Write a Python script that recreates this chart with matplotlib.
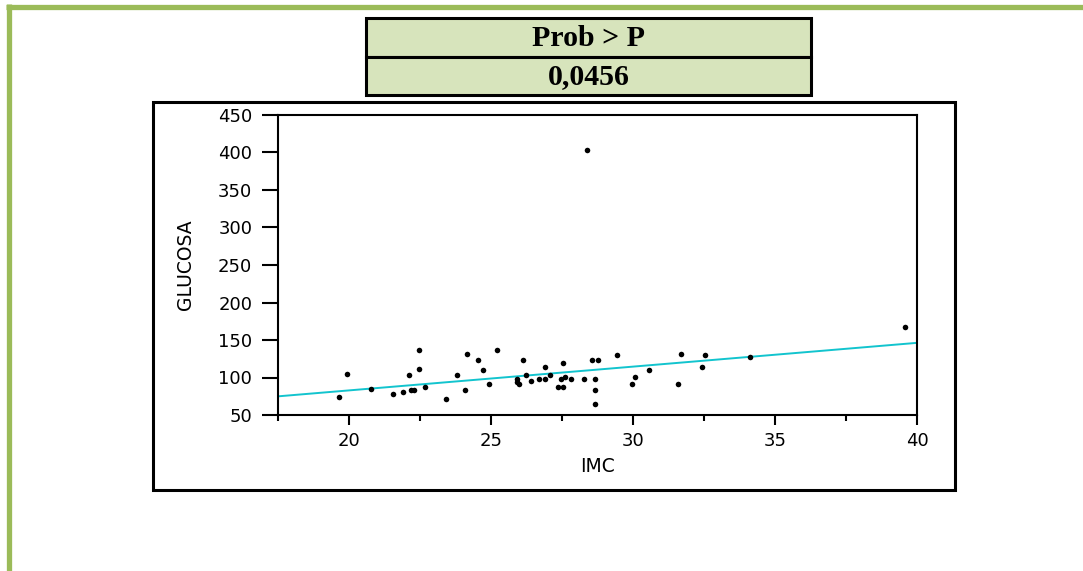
import numpy as np
import matplotlib
matplotlib.use("Agg")
import matplotlib.pyplot as plt
from matplotlib.patches import Rectangle
from matplotlib.lines import Line2D

# --- data ---
imc = [19.66, 19.94, 20.79, 21.54, 21.91, 22.1, 22.2, 22.3, 22.48, 22.48,
       22.67, 23.42, 23.8, 24.08, 24.17, 24.54, 24.73, 24.92, 25.2, 25.93,
       25.93, 26.0, 26.14, 26.23, 26.42, 26.7, 26.9, 26.89, 27.08, 27.36,
       27.55, 27.55, 27.45, 27.6, 27.8, 28.27, 28.38, 28.56, 28.75, 28.66,
       28.66, 28.66, 29.42, 29.98, 30.08, 30.55, 31.58, 31.68, 32.43, 32.52,
       34.12, 39.57]
glucosa = [74, 105, 85, 78.5, 80.5, 103, 84, 83, 136.5, 112,
           87.5, 72, 103, 83, 132, 123, 110, 92, 136.5, 98.5,
           94, 92, 123, 103, 96, 98.5, 98.5, 114, 103, 87.5,
           87.5, 119, 98.5, 101, 98.5, 98.5, 403, 123, 123, 98.5,
           83, 65, 130, 92, 101, 110, 92, 132, 114, 130,
           127.6, 167.5]

# fitted line shown in the chart
fit_intercept = 19.4
fit_slope = 3.17

table_header = "Prob > P"
table_value = "0,0456"

x_ticks = [20, 25, 30, 35, 40]
x_minor = [17.5, 22.5, 27.5, 32.5, 37.5]
y_ticks = [50, 100, 150, 200, 250, 300, 350, 400, 450]

# --- figure in pixel units ---
W, H = 1083, 571
fig = plt.figure(figsize=(W / 100, H / 100), dpi=100)


def fx(px):
    return px / W


def fy(py):
    return 1 - py / H


green = "#9bbb59"
# green page border (top and left)
fig.add_artist(Line2D([fx(6), fx(W)], [fy(6.5), fy(6.5)], color=green, lw=3.8,
                      transform=fig.transFigure, solid_capstyle="butt"))
fig.add_artist(Line2D([fx(8.5), fx(8.5)], [fy(4), fy(H)], color=green, lw=3.8,
                      transform=fig.transFigure, solid_capstyle="butt"))

# table at the top
for top, bot, txt in [(18, 57, table_header), (57, 95, table_value)]:
    fig.add_artist(Rectangle((fx(366), fy(bot)), fx(811) - fx(366), fy(top) - fy(bot),
                             transform=fig.transFigure, facecolor="#d7e4bc",
                             edgecolor="black", lw=2.2))
    fig.text(fx(588.5), fy((top + bot) / 2 + 1), txt, ha="center", va="center",
             fontsize=21.5, fontweight="bold", family="Liberation Serif")

# black frame around the chart
fig.add_artist(Rectangle((fx(153), fy(490)), fx(955) - fx(153), fy(102) - fy(490),
                         transform=fig.transFigure, facecolor="none",
                         edgecolor="black", lw=2.2))

# plot area
ax = fig.add_axes([fx(278), fy(415), fx(917) - fx(278), fy(115) - fy(415)])
ax.scatter(imc, glucosa, s=16, marker="o", color="black", linewidths=0, zorder=3)
xs = np.array([17.5, 40])
ax.plot(xs, fit_intercept + fit_slope * xs, color="#12c4ce", lw=1.4, zorder=2)

ax.set_xlim(17.5, 40)
ax.set_ylim(50, 450)
ax.set_xticks(x_ticks)
ax.set_xticks(x_minor, minor=True)
ax.set_yticks(y_ticks)

for s in ax.spines.values():
    s.set_linewidth(1.5)
ax.tick_params(axis="y", direction="out", length=11.5, width=1.5, pad=7,
               labelsize=13)
ax.tick_params(axis="x", which="major", direction="out", length=7, width=1.5,
               pad=5, labelsize=13)
ax.tick_params(axis="x", which="minor", direction="out", length=4, width=1.5)
for lab in ax.get_xticklabels() + ax.get_yticklabels():
    lab.set_family("DejaVu Sans")

ax.set_xlabel("IMC", fontsize=13.5)
ax.set_ylabel("GLUCOSA", fontsize=13.5)
ax.xaxis.label.set_va("center")
ax.yaxis.label.set_va("center")
ax.xaxis.set_label_coords(0.5, -0.173)
ax.yaxis.set_label_coords(-0.145, 0.5)

fig.savefig("out.png", dpi=100)
